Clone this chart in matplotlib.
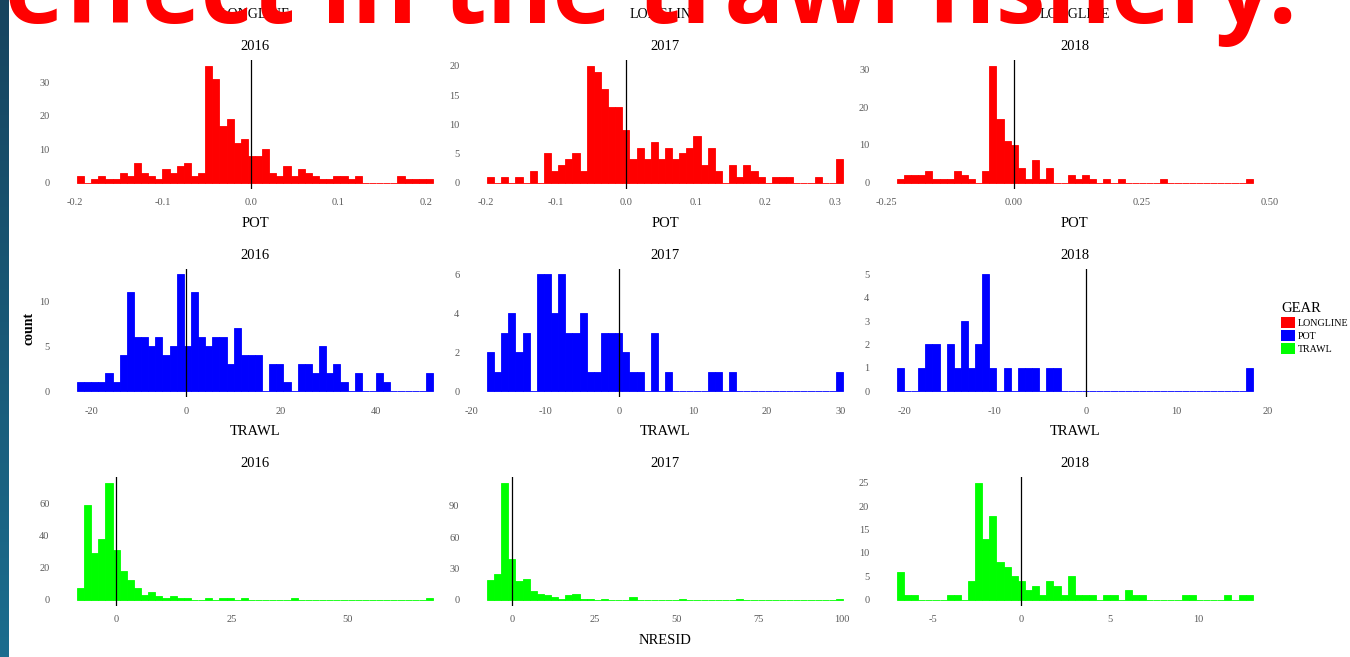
import numpy as np
import matplotlib
matplotlib.use("Agg")
import matplotlib.pyplot as plt
from matplotlib.patches import Patch

W, H = 1350, 657

years = ["2016", "2017", "2018"]
gears = ["LONGLINE", "POT", "TRAWL"]
gear_colors = {"LONGLINE": "#ff0000", "POT": "#0000ff", "TRAWL": "#00ff00"}
row_xlabels = ["POT", "TRAWL", "NRESID"]

# 50-bin histogram counts per panel, with the data range each set of bins covers
longline_2016 = [2, 0, 1, 2, 1, 1, 3, 2, 6, 3, 2, 1, 4, 3, 5, 6, 2, 3, 35, 31,
                 17, 19, 12, 13, 8, 8, 10, 3, 2, 5, 2, 4, 3, 2, 1, 1, 2, 2, 1, 2,
                 0, 0, 0, 0, 0, 2, 1, 1, 1, 1]
longline_2017 = [1, 0, 1, 0, 1, 0, 2, 0, 5, 2, 3, 4, 5, 2, 20, 19, 16, 13, 13, 9,
                 4, 6, 4, 7, 4, 6, 4, 5, 6, 8, 3, 6, 2, 0, 3, 1, 3, 2, 1, 0,
                 1, 1, 1, 0, 0, 0, 1, 0, 0, 4]
longline_2018 = [1, 2, 2, 2, 3, 1, 1, 1, 3, 2, 1, 0, 3, 31, 17, 11, 10, 4, 1, 6,
                 1, 4, 0, 0, 2, 1, 2, 1, 0, 1, 0, 1, 0, 0, 0, 0, 0, 1, 0, 0,
                 0, 0, 0, 0, 0, 0, 0, 0, 0, 1]
pot_2016 = [1, 1, 1, 1, 2, 1, 4, 11, 6, 6, 5, 6, 4, 5, 13, 5, 11, 6, 5, 6,
            6, 3, 7, 4, 4, 4, 0, 3, 3, 1, 0, 3, 3, 2, 5, 2, 3, 1, 0, 2,
            0, 0, 2, 1, 0, 0, 0, 0, 0, 2]
pot_2017 = [2, 1, 3, 4, 2, 3, 0, 6, 6, 4, 6, 3, 3, 4, 1, 1, 3, 3, 3, 2,
            1, 1, 0, 3, 0, 1, 0, 0, 0, 0, 0, 1, 1, 0, 1, 0, 0, 0, 0, 0,
            0, 0, 0, 0, 0, 0, 0, 0, 0, 1]
pot_2018 = [1, 0, 0, 1, 2, 2, 0, 2, 1, 3, 1, 2, 5, 1, 0, 1, 0, 1, 1, 1,
            0, 1, 1, 0, 0, 0, 0, 0, 0, 0, 0, 0, 0, 0, 0, 0, 0, 0, 0, 0,
            0, 0, 0, 0, 0, 0, 0, 0, 0, 1]
trawl_2016 = [7, 59, 29, 38, 73, 31, 18, 12, 7, 3, 5, 2, 1, 2, 1, 1, 0, 0, 1, 0,
              1, 1, 0, 1, 0, 0, 0, 0, 0, 0, 1, 0, 0, 0, 0, 0, 0, 0, 0, 0,
              0, 0, 0, 0, 0, 0, 0, 0, 0, 1]
trawl_2017 = [19, 25, 112, 39, 18, 20, 8, 5, 4, 3, 1, 4, 5, 1, 1, 0, 1, 0, 0, 0,
              3, 0, 0, 0, 0, 0, 0, 1, 0, 0, 0, 0, 0, 0, 0, 1, 0, 0, 0, 0,
              0, 0, 0, 0, 0, 0, 0, 0, 0, 1]
trawl_2018 = [6, 1, 1, 0, 0, 0, 0, 1, 1, 0, 4, 25, 13, 18, 8, 7, 5, 4, 2, 3,
              1, 4, 3, 1, 5, 1, 1, 1, 0, 1, 1, 0, 2, 1, 1, 0, 0, 0, 0, 0,
              1, 1, 0, 0, 0, 0, 1, 0, 1, 1]

counts = [[longline_2016, longline_2017, longline_2018],
          [pot_2016, pot_2017, pot_2018],
          [trawl_2016, trawl_2017, trawl_2018]]
ranges = [[(-0.1977, 0.2076), (-0.1986, 0.311), (-0.229, 0.467)],
          [(-23.1, 52.1), (-17.9, 30.3), (-20.8, 18.4)],
          [(-8.5, 68.5), (-7.6, 100.5), (-7.02, 13.1)]]
xticks = [[[-0.2, -0.1, 0.0, 0.1, 0.2], [-0.2, -0.1, 0.0, 0.1, 0.2, 0.3], [-0.25, 0.0, 0.25, 0.5]],
          [[-20, 0, 20, 40], [-20, -10, 0, 10, 20, 30], [-20, -10, 0, 10, 20]],
          [[0, 25, 50], [0, 25, 50, 75, 100], [-5, 0, 5, 10]]]
xticklabels = [[["-0.2", "-0.1", "0.0", "0.1", "0.2"], ["-0.2", "-0.1", "0.0", "0.1", "0.2", "0.3"],
                ["-0.25", "0.00", "0.25", "0.50"]],
               [["-20", "0", "20", "40"], ["-20", "-10", "0", "10", "20", "30"], ["-20", "-10", "0", "10", "20"]],
               [["0", "25", "50"], ["0", "25", "50", "75", "100"], ["-5", "0", "5", "10"]]]
yticks = [[[0, 10, 20, 30], [0, 5, 10, 15, 20], [0, 10, 20, 30]],
          [[0, 5, 10], [0, 2, 4, 6], [0, 1, 2, 3, 4, 5]],
          [[0, 20, 40, 60], [0, 30, 60, 90], [0, 5, 10, 15, 20, 25]]]

serif = "Liberation Serif"
tick_grey = "#5a5a5a"

fig = plt.figure(figsize=(W / 100, H / 100), dpi=100)
fig.patch.set_facecolor("white")

# slide edge strip on the left
strip = fig.add_axes([0, 0, 9 / W, 1])
strip.imshow(np.linspace(0, 1, 200).reshape(-1, 1), aspect="auto",
             cmap=matplotlib.colors.LinearSegmentedColormap.from_list("edge", ["#16445f", "#1c6d8e"]),
             extent=[0, 1, 0, 1], origin="upper")
strip.axis("off")

col_left = [59.2, 469.2, 879.0]
row_top = [60, 268.5, 477]
pw, ph = 391.6, 128.5

for r in range(3):
    for c in range(3):
        ax = fig.add_axes([col_left[c] / W, 1 - (row_top[r] + ph) / H, pw / W, ph / H])
        vals = np.array(counts[r][c])
        lo, hi = ranges[r][c]
        edges = np.linspace(lo, hi, len(vals) + 1)
        col = gear_colors[gears[r]]
        ax.bar(edges[:-1], vals, width=np.diff(edges), align="edge",
               color=col, edgecolor=col, linewidth=0.6)
        ax.axvline(0, color="black", linewidth=0.9)
        span = hi - lo
        ax.set_xlim(lo - 0.05 * span, hi + 0.05 * span)
        top = vals.max()
        ax.set_ylim(-0.05 * top, 1.05 * top)
        ax.set_xticks(xticks[r][c])
        ax.set_xticklabels(xticklabels[r][c])
        ax.set_yticks(yticks[r][c])
        ax.tick_params(length=0, labelsize=7.5, labelcolor=tick_grey, pad=7)
        for lab in ax.get_xticklabels() + ax.get_yticklabels():
            lab.set_fontfamily(serif)
        for s in ax.spines.values():
            s.set_visible(False)
        ax.set_facecolor("none")
        ax.set_title(years[c], fontsize=10.5, family=serif, pad=7)
        if r < 2 or c == 1:
            ax.set_xlabel(row_xlabels[r], fontsize=10.5, family=serif, labelpad=7)
        if r == 0:
            fig.text((col_left[c] + pw / 2) / W, 1 - 15 / H, "LONGLINE", ha="center", va="center",
                     fontsize=10, family=serif)

fig.text(29 / W, 1 - 328 / H, "count", rotation=90, ha="center", va="center",
         fontsize=10, fontweight="bold", family=serif)

handles = [Patch(facecolor=gear_colors[g], edgecolor="none") for g in gears]
leg = fig.legend(handles, gears, title="GEAR", loc="upper left",
                 bbox_to_anchor=(1281 / W, 1 - 302 / H), frameon=False,
                 handlelength=1.4, handleheight=1.3, handletextpad=0.3,
                 labelspacing=0.2, borderpad=0, borderaxespad=0, alignment="left",
                 prop={"family": serif, "size": 7.2},
                 title_fontproperties={"family": serif, "size": 10.5})

# slide heading, partly cut off by the top edge
fig.text(5 / W, 1 - 23 / H, "effect in the trawl fishery.", color="#ff0000",
         fontsize=72, fontweight="bold", family="Open Sans", ha="left", va="baseline",
         zorder=10)

fig.savefig("out.png", dpi=100)
